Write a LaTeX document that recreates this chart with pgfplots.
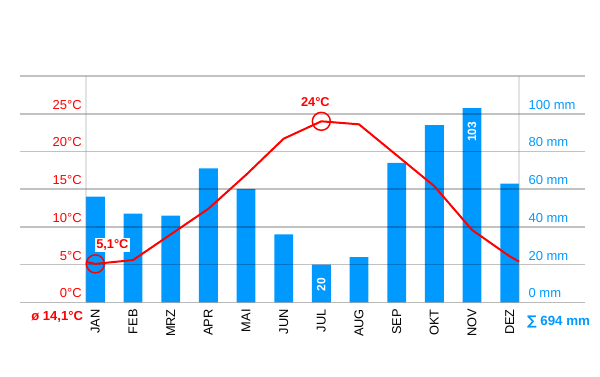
\documentclass[border=0pt]{standalone}
\usepackage{pgfplots}
\pgfplotsset{compat=1.18}
\usepackage{fontspec}
\setmainfont{Liberation Sans}
\newfontfamily\symfont{DejaVu Sans}
\definecolor{rainblue}{RGB}{0,153,255}
\definecolor{tempred}{RGB}{255,0,0}

\begin{document}
\begin{tikzpicture}
\pgfplotsset{
  common/.style={
    scale only axis, width=423.75pt, height=169.7pt,
    xmin=-2, xmax=13,
    axis line style={draw=none},
    major tick length=0pt,
    clip=false,
    /pgf/number format/assume math mode=true,
  }
}
\begin{axis}[common, name=ax,
  ymin=0, ymax=120,
  xtick={0,...,11},
  xticklabels={JAN,FEB,MRZ,APR,MAI,JUN,JUL,AUG,SEP,OKT,NOV,DEZ},
  xticklabel style={yshift=-5pt, rotate=90, anchor=east, inner sep=0pt, font=\fontsize{9.6}{10}\selectfont},
  ytick={0,20,...,100},
  yticklabels={0 mm,20 mm,40 mm,60 mm,80 mm,100 mm},
  yticklabel pos=right,
  yticklabel style={anchor=west, inner sep=0pt, xshift=-42.5pt, yshift=6.75pt, text=rainblue, font=\fontsize{9.75}{11}\selectfont},
]
\addplot[ybar, bar width=0.5, fill=rainblue, draw=none] coordinates {
  (0,56) (1,47) (2,46) (3,71) (4,60) (5,36) (6,20) (7,24) (8,74) (9,94) (10,103) (11,63)};
\addplot[draw=none, mark=none, nodes near coords, point meta=explicit symbolic,
  nodes near coords style={yshift=-10pt, rotate=90, anchor=east, inner sep=0pt, text=white, font=\bfseries\fontsize{9}{10}\selectfont}]
  coordinates {(6,20) [20] (10,103) [103]};
\node[anchor=west, inner sep=0pt, text=rainblue, font=\bfseries\fontsize{10}{12}\selectfont]
  at (axis cs:11.25,0) [xshift=5.8pt, yshift=-14.5pt] {{\symfont ∑} 694 mm};
\end{axis}
\begin{axis}[common,
  ymin=0, ymax=30,
  xtick=\empty,
  ytick={0,5,...,30},
  yticklabels={0°C,5°C,10°C,15°C,20°C,25°C,{}},
  yticklabel style={anchor=east, inner sep=0pt, xshift=46.5pt, yshift=6.75pt, text=tempred, font=\fontsize{9.75}{11}\selectfont},
  ymajorgrids, major grid style={black, opacity=0.24, line width=1.1pt},
  extra x ticks={-0.25,11.25}, extra x tick labels={},
  extra x tick style={xmajorgrids=true, major grid style={black!45, line width=1.1pt}},
  extra y ticks={0}, extra y tick labels={},
  extra y tick style={ymajorgrids=true, major grid style={black!40, line width=1.1pt}},
]
\addplot[tempred, line width=1.5pt, mark=none] coordinates {
  (-0.25,5.35) (0,5.1) (1,5.6) (2,9.0) (3,12.4) (4,16.9) (5,21.7) (6,24.0) (7,23.6) (8,19.5) (9,15.4) (10,9.6) (11,6.1) (11.25,5.4)};
\addplot[tempred, only marks, mark=o, mark size=6.75pt, mark options={line width=1.1pt},
  nodes near coords, point meta=explicit symbolic,
  nodes near coords style={anchor=center, xshift=12.75pt, yshift=14.25pt, fill=white, inner sep=1pt, text=tempred, font=\bfseries\fontsize{9.6}{11}\selectfont}]
  coordinates {(0,5.1) [{5,1°C}]};
\addplot[tempred, only marks, mark=o, mark size=6.75pt, mark options={line width=1.1pt},
  nodes near coords, point meta=explicit symbolic,
  nodes near coords style={anchor=center, xshift=-4.5pt, yshift=14.5pt, fill=white, inner sep=1pt, text=tempred, font=\bfseries\fontsize{9.6}{11}\selectfont}]
  coordinates {(6,24) [{24°C}]};
\node[anchor=east, inner sep=0pt, text=tempred, font=\bfseries\fontsize{9.8}{12}\selectfont]
  at (axis cs:-0.25,0) [xshift=-2pt, yshift=-10.8pt] {ø 14,1°C};
\end{axis}
\pgfresetboundingbox
\path[use as bounding box] ([xshift=-15pt,yshift=-56pt]ax.south west) rectangle ++(450pt,282.75pt);
\end{tikzpicture}
\end{document}
